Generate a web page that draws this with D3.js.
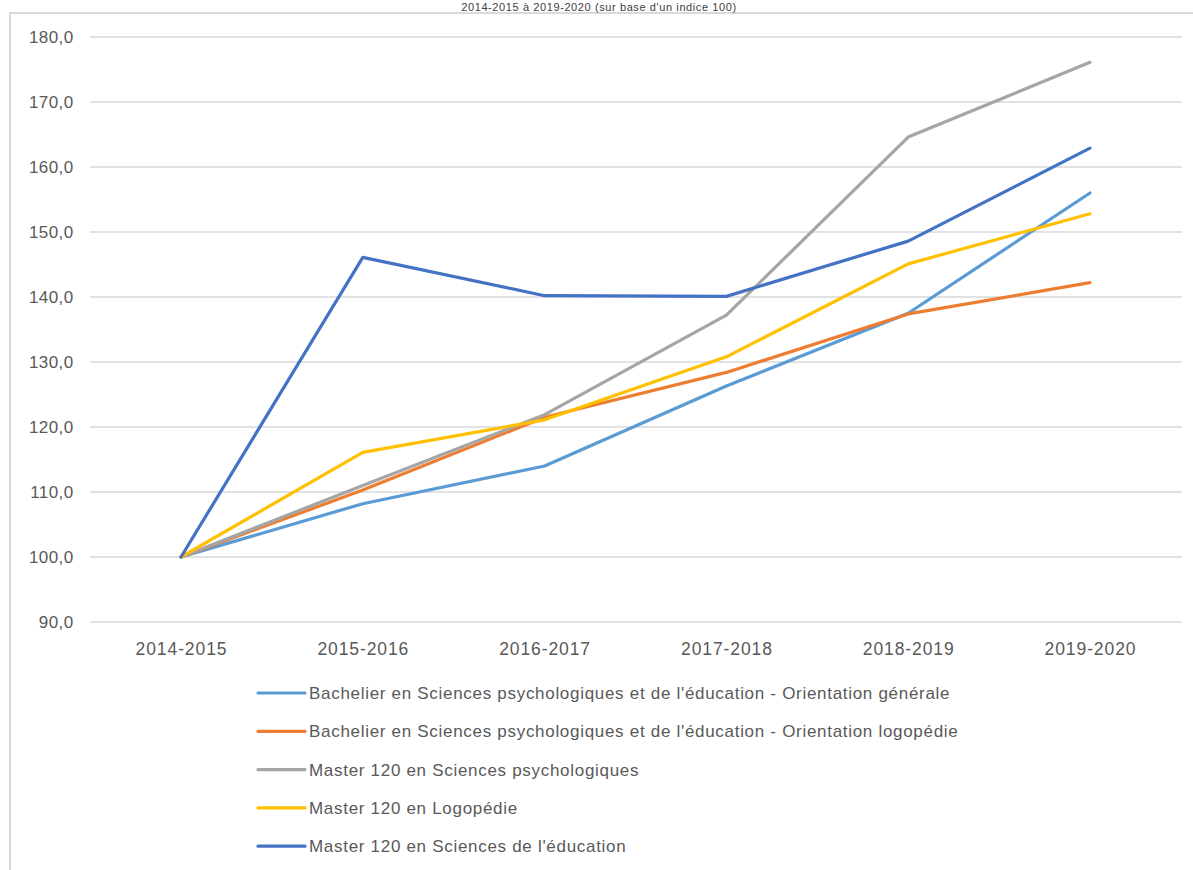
<!DOCTYPE html>
<html><head><meta charset="utf-8">
<script src="https://cdn.jsdelivr.net/npm/d3@7"></script>
<style>body{margin:0;background:#fff;}svg{display:block;}</style>
</head><body>
<script>
const categories = ["2014-2015","2015-2016","2016-2017","2017-2018","2018-2019","2019-2020"];
const seriesNames = [
  "Bachelier en Sciences psychologiques et de l'éducation - Orientation générale",
  "Bachelier en Sciences psychologiques et de l'éducation - Orientation logopédie",
  "Master 120 en Sciences psychologiques",
  "Master 120 en Logopédie",
  "Master 120 en Sciences de l'éducation"
];
const bachGenerale = [100, 108.2, 114.0, 126.3, 137.5, 156.0];
const bachLogo     = [100, 110.3, 121.5, 128.4, 137.4, 142.2];
const masterPsy    = [100, 111.0, 121.9, 137.2, 164.6, 176.1];
const masterLogo   = [100, 116.1, 121.1, 130.8, 145.1, 152.8];
const masterEdu    = [100, 146.1, 140.2, 140.1, 148.6, 162.9];
const seriesValues = [bachGenerale, bachLogo, masterPsy, masterLogo, masterEdu];
const colors = ["#5B9BD5","#ED7D31","#A5A5A5","#FFC000","#4472C4"];
const yTicks = [90,100,110,120,130,140,150,160,170,180];
const titleText = "2014-2015 à 2019-2020 (sur base d'un indice 100)";

const W = 1193, H = 870;
const svg = d3.select("body").append("svg").attr("width", W).attr("height", H);
const font = "Liberation Sans, Arial, sans-serif";

// chart border
svg.append("rect").attr("x", 10).attr("y", 13).attr("width", W + 20).attr("height", H + 20)
  .attr("fill","#fff").attr("stroke","#d9d9d9").attr("stroke-width", 2);

// title (top of chart)
svg.append("text").attr("x", 599).attr("y", 11).attr("text-anchor","middle")
  .attr("font-family", font).attr("font-size", 11).attr("letter-spacing", 0.6)
  .attr("fill","#404040").text(titleText);

const x = d3.scalePoint().domain(categories).range([181, 1090]);
const y = d3.scaleLinear().domain([90, 180]).range([622, 37]);

// gridlines
svg.append("g").selectAll("line").data(yTicks).join("line")
  .attr("x1", 90).attr("x2", 1182).attr("y1", d => y(d)).attr("y2", d => y(d))
  .attr("stroke", "#d9d9d9").attr("stroke-width", 1.3);

// y axis labels
const yAxis = d3.axisLeft(y).tickValues(yTicks).tickSize(0).tickPadding(0)
  .tickFormat(d => d3.format(".1f")(d).replace(".", ","));
const gy = svg.append("g").attr("transform","translate(73.5,0)").call(yAxis);
gy.select(".domain").remove();
gy.selectAll("text").attr("font-family", font).attr("font-size", 17)
  .attr("letter-spacing", 0.4).attr("fill","#595959");

// x axis labels
const xAxis = d3.axisBottom(x).tickSize(0).tickPadding(0);
const gx = svg.append("g").attr("transform","translate(0,643)").call(xAxis);
gx.select(".domain").remove();
gx.selectAll("text").attr("font-family", font).attr("font-size", 17.5)
  .attr("letter-spacing", 0.9).attr("fill","#595959");

// lines
const line = d3.line().x((d,i) => x(categories[i])).y(d => y(d));
svg.append("g").selectAll("path").data(seriesValues).join("path")
  .attr("d", d => line(d)).attr("fill","none")
  .attr("stroke", (d,i) => colors[i]).attr("stroke-width", 3.2)
  .attr("stroke-linejoin","round").attr("stroke-linecap","round");

// legend
const lg = svg.append("g").selectAll("g").data(seriesNames).join("g")
  .attr("transform", (d,i) => `translate(258,${693 + i*38.3})`);
lg.append("line").attr("x1",0).attr("x2",47).attr("y1",0).attr("y2",0)
  .attr("stroke",(d,i)=>colors[i]).attr("stroke-width",3.2).attr("stroke-linecap","round");
lg.append("text").attr("x",51).attr("y",0).attr("dy","0.35em")
  .attr("font-family", font).attr("font-size", 17).attr("letter-spacing", 0.7)
  .attr("fill","#595959").text(d=>d);
</script>
</body></html>
